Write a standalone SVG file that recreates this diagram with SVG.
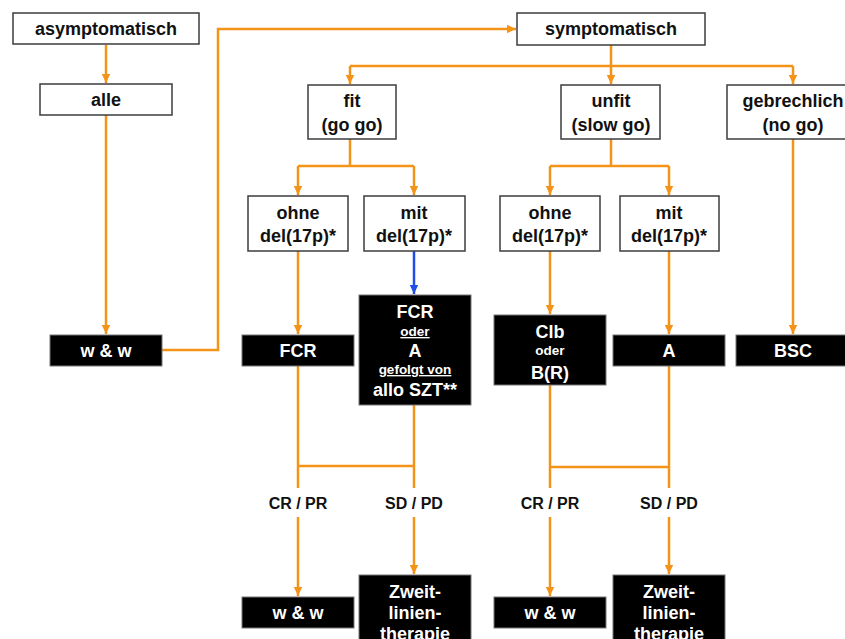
<svg xmlns="http://www.w3.org/2000/svg" width="845" height="639" viewBox="0 0 845 639">
<defs>
<marker id="ao" markerWidth="10" markerHeight="10" refX="9" refY="5" orient="auto" markerUnits="userSpaceOnUse"><path d="M0,0.8 L9,5 L0,9.2 Z" fill="#F39419"/></marker>
<marker id="ab" markerWidth="10" markerHeight="10" refX="9" refY="5" orient="auto" markerUnits="userSpaceOnUse"><path d="M0,0.8 L9,5 L0,9.2 Z" fill="#1F4FE6"/></marker>
<style>
.w{fill:#fff;stroke:#3c3c3c;stroke-width:1.5}
.b{fill:#000;stroke:#777;stroke-width:1}
text{font-family:"Liberation Sans",Arial,sans-serif;font-weight:bold;text-anchor:middle}
.tk{fill:#111;font-size:18px}
.tw{fill:#fff;font-size:18px}
.sw{fill:#fff;font-size:13.5px}
.lb{fill:#111;font-size:16px}
.o{fill:none;stroke:#F39419;stroke-width:2.5}
.oa{fill:none;stroke:#F39419;stroke-width:2.5;marker-end:url(#ao)}
.ba{fill:none;stroke:#1F4FE6;stroke-width:2.5;marker-end:url(#ab)}
</style>
</defs>
<rect width="845" height="639" fill="#fff"/>
<g id="connectors">
<path class="oa" d="M106,45 V83"/>
<path class="oa" d="M106,115 V334"/>
<path class="oa" d="M162,350 H218 V29 H516"/>
<path class="o" d="M611,45 V66 M350,66 H793"/>
<path class="oa" d="M350,66 V84"/>
<path class="oa" d="M611,66 V84"/>
<path class="oa" d="M793,66 V84"/>
<path class="o" d="M350,139 V166 M298,166 H414"/>
<path class="oa" d="M298,166 V195"/>
<path class="oa" d="M414,166 V195"/>
<path class="o" d="M611,139 V166 M550,166 H669"/>
<path class="oa" d="M550,166 V195"/>
<path class="oa" d="M669,166 V195"/>
<path class="oa" d="M298,251 V334"/>
<path class="ba" d="M414,251 V294"/>
<path class="oa" d="M550,251 V314"/>
<path class="oa" d="M669,251 V334"/>
<path class="oa" d="M793,139 V334"/>
<path class="o" d="M298,366 V488 M414,405 V488 M298,466 H414"/>
<path class="o" d="M550,385 V488 M669,366 V488 M550,467 H669"/>
<path class="oa" d="M298,517 V596"/>
<path class="oa" d="M414,517 V574"/>
<path class="oa" d="M550,517 V596"/>
<path class="oa" d="M669,517 V574"/>
</g>
<g id="asymptomatisch"><rect class="w" x="13" y="13" width="186" height="31"/><text class="tk" x="106" y="35">asymptomatisch</text></g>
<g id="alle"><rect class="w" x="40" y="84" width="132" height="31"/><text class="tk" x="106" y="106">alle</text></g>
<g id="ww1"><rect class="b" x="50" y="335" width="112" height="31"/><text class="tw" x="106" y="357">w &amp; w</text></g>
<g id="symptomatisch"><rect class="w" x="517" y="13" width="188" height="32"/><text class="tk" x="611" y="35">symptomatisch</text></g>
<g id="fit"><rect class="w" x="308" y="85" width="88" height="54"/><text class="tk" x="352" y="107">fit</text><text class="tk" x="352" y="131">(go go)</text></g>
<g id="unfit"><rect class="w" x="561" y="85" width="99" height="54"/><text class="tk" x="611" y="107">unfit</text><text class="tk" x="611" y="131">(slow go)</text></g>
<g id="gebrechlich"><rect class="w" x="727" y="85" width="132" height="54"/><text class="tk" x="793" y="107">gebrechlich</text><text class="tk" x="793" y="131">(no go)</text></g>
<g id="ohne1"><rect class="w" x="248" y="196" width="100" height="55"/><text class="tk" x="298" y="219">ohne</text><text class="tk" x="298" y="242">del(17p)*</text></g>
<g id="mit1"><rect class="w" x="364" y="196" width="101" height="55"/><text class="tk" x="414" y="219">mit</text><text class="tk" x="414" y="242">del(17p)*</text></g>
<g id="ohne2"><rect class="w" x="500" y="196" width="100" height="55"/><text class="tk" x="550" y="219">ohne</text><text class="tk" x="550" y="242">del(17p)*</text></g>
<g id="mit2"><rect class="w" x="620" y="196" width="99" height="55"/><text class="tk" x="669" y="219">mit</text><text class="tk" x="669" y="242">del(17p)*</text></g>
<g id="fcr"><rect class="b" x="242" y="335" width="112" height="31"/><text class="tw" x="298" y="357">FCR</text></g>
<g id="fcr-oder-a"><rect class="b" x="359" y="295" width="112" height="110"/><text class="tw" x="415" y="318">FCR</text><text class="sw" x="415" y="336" text-decoration="underline">oder</text><text class="tw" x="415" y="357">A</text><text class="sw" x="415" y="374" text-decoration="underline">gefolgt von</text><text class="tw" x="415" y="396">allo SZT**</text></g>
<g id="clb"><rect class="b" x="494" y="315" width="112" height="70"/><text class="tw" x="550" y="338">Clb</text><text class="sw" x="550" y="355">oder</text><text class="tw" x="550" y="379">B(R)</text></g>
<g id="a"><rect class="b" x="613" y="335" width="112" height="31"/><text class="tw" x="669" y="357">A</text></g>
<g id="bsc"><rect class="b" x="736" y="335" width="114" height="31"/><text class="tw" x="793" y="357">BSC</text></g>
<g id="labels"><text class="lb" x="298" y="509">CR / PR</text><text class="lb" x="414" y="509">SD / PD</text><text class="lb" x="550" y="509">CR / PR</text><text class="lb" x="669" y="509">SD / PD</text></g>
<g id="ww2"><rect class="b" x="242" y="597" width="112" height="31"/><text class="tw" x="298" y="619">w &amp; w</text></g>
<g id="zweit1"><rect class="b" x="359" y="575" width="112" height="80"/><text class="tw" x="415" y="598">Zweit-</text><text class="tw" x="415" y="619">linien-</text><text class="tw" x="415" y="640">therapie</text></g>
<g id="ww3"><rect class="b" x="494" y="597" width="112" height="31"/><text class="tw" x="550" y="619">w &amp; w</text></g>
<g id="zweit2"><rect class="b" x="613" y="575" width="112" height="80"/><text class="tw" x="669" y="598">Zweit-</text><text class="tw" x="669" y="619">linien-</text><text class="tw" x="669" y="640">therapie</text></g>
</svg>
